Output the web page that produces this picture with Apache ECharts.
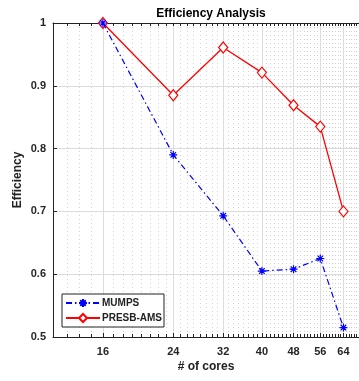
<!DOCTYPE html>
<html><head><meta charset="utf-8">
<script src="https://cdn.jsdelivr.net/npm/echarts@6/dist/echarts.min.js"></script>
<style>html,body{margin:0;padding:0;background:#fff}#c{width:359px;height:381px}</style>
</head><body><div id="c"></div>
<script>
const cores = [16, 24, 32, 40, 48, 56, 64];
const mumps = [1.0, 0.790, 0.693, 0.605, 0.608, 0.625, 0.515];
const presb = [1.0, 0.885, 0.961, 0.921, 0.869, 0.835, 0.700];
const xTickLabels = [16, 24, 32, 40, 48, 56, 64];
const yTicks = [0.5, 0.6, 0.7, 0.8, 0.9, 1];
const minorX = [];
for (let v = 12; v <= 70; v++) if (xTickLabels.indexOf(v) < 0) minorX.push(v);
const allX = [];
for (let v = 12; v <= 70; v++) allX.push(v);

const font = 'Liberation Sans, Arial, sans-serif';
const star = 'path://M0,-5L0,5M-5,0L5,0M-3.5,-3.5L3.5,3.5M-3.5,3.5L3.5,-3.5';
const chart = echarts.init(document.getElementById('c'), null, {renderer: 'canvas'});
chart.setOption({
  animation: false,
  title: {text: 'Efficiency Analysis', left: 206, top: 3, textAlign: 'center',
    textStyle: {fontFamily: font, fontWeight: 'bold', fontSize: 12, color: '#000'}},
  grid: {left: 53, top: 23, right: -1, bottom: 44, containLabel: false},
  legend: {orient: 'vertical', left: 62, top: 294, itemWidth: 34, itemHeight: 10, itemGap: 5,
    padding: [4, 2, 4, 3], borderColor: '#222', borderWidth: 1, backgroundColor: '#fff',
    textStyle: {fontFamily: font, fontWeight: 'bold', fontSize: 10, color: '#222', padding: [0,0,0,-3]},
    data: ['MUMPS', 'PRESB-AMS']},
  xAxis: [
    {type: 'log', logBase: 2, min: 12, max: 70, position: 'bottom',
     name: '# of cores', nameLocation: 'middle', nameGap: 24, nameMoveOverlap: false,
     nameTextStyle: {fontFamily: font, fontWeight: 'bold', fontSize: 12, color: '#222'},
     axisLine: {show: true, lineStyle: {color: '#222', width: 1}},
     axisTick: {show: true, inside: true, length: 4, customValues: xTickLabels, lineStyle: {color: '#222'}},
     axisLabel: {show: true, customValues: xTickLabels, margin: 9,
       fontFamily: font, fontWeight: 'bold', fontSize: 11, color: '#262626'},
     splitLine: {show: true, lineStyle: {color: '#dcdcdc', width: 1}},
     minorTick: {show: false}, minorSplitLine: {show: false}},
    {type: 'log', logBase: 2, min: 12, max: 70, position: 'top',
     axisLine: {show: true, lineStyle: {color: '#222', width: 1}},
     axisTick: {show: true, inside: true, length: 3, customValues: allX, lineStyle: {color: '#222'}},
     axisLabel: {show: false},
     splitLine: {show: false}},
    {type: 'log', logBase: 2, min: 12, max: 70, position: 'bottom',
     axisLine: {show: false},
     axisTick: {show: true, inside: true, length: 3, customValues: minorX, lineStyle: {color: '#222'}},
     axisLabel: {show: false},
     splitLine: {show: true, lineStyle: {color: '#d2d2d2', width: 1, type: [1, 3]}}}
  ],
  yAxis: {type: 'value', min: 0.5, max: 1, interval: 0.1,
    name: 'Efficiency', nameLocation: 'middle', nameGap: 29, nameMoveOverlap: false,
    nameTextStyle: {fontFamily: font, fontWeight: 'bold', fontSize: 12, color: '#222'},
    axisLine: {show: true, lineStyle: {color: '#222', width: 1}},
    axisTick: {show: true, inside: true, length: 4, lineStyle: {color: '#222'}},
    axisLabel: {margin: 7, fontFamily: font, fontWeight: 'bold', fontSize: 11, color: '#262626',
      customValues: yTicks},
    splitLine: {show: true, lineStyle: {color: '#dcdcdc', width: 1}}},
  series: [
    {name: 'MUMPS', type: 'line', xAxisIndex: 0,
     data: cores.map((c, i) => [c, mumps[i]]),
     symbol: star, symbolSize: 8,
     itemStyle: {color: '#0000ff', borderColor: '#0000ff', borderWidth: 1.2},
     lineStyle: {color: '#0000ff', width: 1.2, type: [6, 3, 1.5, 3]}, z: 4},
    {name: 'PRESB-AMS', type: 'line', xAxisIndex: 0,
     data: cores.map((c, i) => [c, presb[i]]),
     symbol: 'diamond', symbolSize: [9, 11],
     itemStyle: {color: '#fff', borderColor: '#ff0000', borderWidth: 1.2},
     lineStyle: {color: '#ff0000', width: 1.3}, z: 3}
  ]
});
</script></body></html>
